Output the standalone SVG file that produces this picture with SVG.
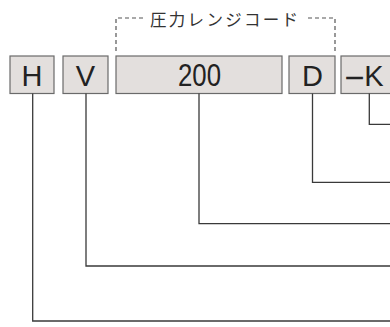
<svg xmlns="http://www.w3.org/2000/svg" width="390" height="327" viewBox="0 0 390 327">
<style>
.box{fill:#e3dfdd;stroke:#6a6a6a;stroke-width:1.2}
.lbl{font-family:"Liberation Sans",Arial,sans-serif;font-size:29px;fill:#222;text-anchor:middle}
.conn{fill:none;stroke:#3a3a3a;stroke-width:1.3}
.dash{fill:none;stroke:#555;stroke-width:1.2;stroke-dasharray:4 3}
.cap{font-family:"Noto Sans CJK JP","Noto Sans",sans-serif;font-size:16.5px;fill:#333;letter-spacing:2.3px}
</style>
<rect width="390" height="327" fill="#fff"/>
<g id="bracket">
<path class="dash" d="M143,18 H116 V53"/>
<path class="dash" d="M308,18 H335 V53"/>
<text class="cap" x="150" y="26">圧力レンジコード</text>
</g>
<g id="node-H"><rect class="box" x="10" y="56" width="44" height="37.5"/><text class="lbl" x="32" y="86">H</text></g>
<g id="node-V"><rect class="box" x="63" y="56" width="45" height="37.5"/><text class="lbl" x="85.5" y="86">V</text></g>
<g id="node-200"><rect class="box" x="116" y="56" width="166" height="37.5"/><text class="lbl" x="199.5" y="86" style="font-size:31px" textLength="43" lengthAdjust="spacingAndGlyphs">200</text></g>
<g id="node-D"><rect class="box" x="289" y="56" width="46" height="37.5"/><text class="lbl" x="312.5" y="86">D</text></g>
<g id="node-K"><rect class="box" x="341" y="56" width="60" height="37.5"/><text class="lbl" x="346.5" y="86" style="text-anchor:start"><tspan style="stroke:#222;stroke-width:0.6">–</tspan><tspan dx="1.5">K</tspan></text></g>
<g id="connectors">
<path class="conn" d="M32.7,93.5 V321 H390"/>
<path class="conn" d="M86,93.5 V266 H390"/>
<path class="conn" d="M199,93.5 V223.7 H390"/>
<path class="conn" d="M312.5,93.5 V182.3 H390"/>
<path class="conn" d="M369.3,93.5 V124.3 H390"/>
</g>
</svg>
